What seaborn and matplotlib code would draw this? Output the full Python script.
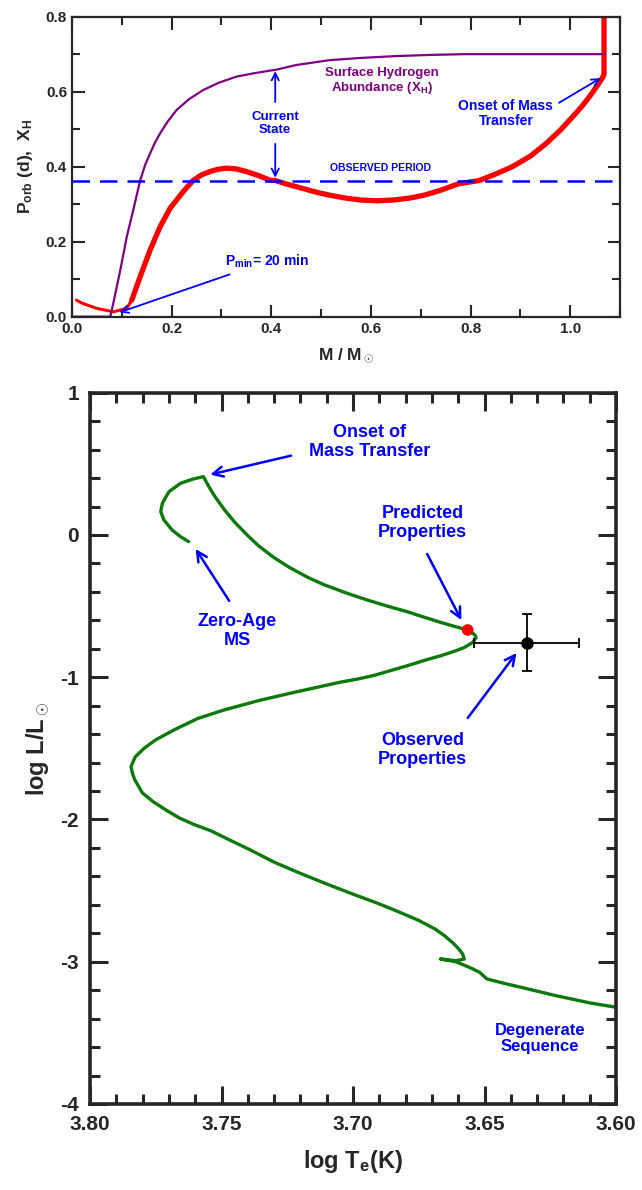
import numpy as np
import pandas as pd
import matplotlib
matplotlib.use("Agg")
import matplotlib.pyplot as plt
from matplotlib.ticker import MultipleLocator, FormatStrFormatter
import seaborn as sns

# ---- data ----
# top panel: orbital period (red) and surface hydrogen (purple) vs donor mass
red_m = [0.009, 0.02, 0.05, 0.083, 0.11, 0.12, 0.137, 0.157, 0.177, 0.197, 0.223, 0.243,
         0.26, 0.277, 0.293, 0.31, 0.33, 0.35, 0.375, 0.397, 0.408, 0.435, 0.463, 0.49,
         0.517, 0.55, 0.58, 0.612, 0.645, 0.677, 0.707, 0.74, 0.775, 0.817, 0.85, 0.884,
         0.92, 0.952, 0.98, 1.005, 1.023, 1.039, 1.055, 1.066, 1.068, 1.068]
red_p = [0.044, 0.036, 0.022, 0.013, 0.022, 0.044, 0.107, 0.178, 0.24, 0.289, 0.333, 0.363,
         0.378, 0.387, 0.393, 0.396, 0.394, 0.387, 0.376, 0.364, 0.363, 0.352, 0.342, 0.332,
         0.324, 0.316, 0.311, 0.309, 0.311, 0.316, 0.324, 0.337, 0.354, 0.363, 0.38, 0.40,
         0.428, 0.462, 0.497, 0.533, 0.56, 0.587, 0.617, 0.64, 0.645, 0.85]
purple_m = [0.0, 0.077, 0.083, 0.097, 0.11, 0.123, 0.137, 0.147, 0.157, 0.167, 0.177, 0.193,
            0.21, 0.235, 0.263, 0.295, 0.33, 0.365, 0.397, 0.408, 0.45, 0.517, 0.58, 0.653,
            0.72, 0.789, 0.9, 1.068]
purple_x = [0.0, 0.0, 0.036, 0.124, 0.213, 0.284, 0.364, 0.405, 0.436, 0.465, 0.489, 0.522,
            0.551, 0.58, 0.604, 0.624, 0.64, 0.649, 0.656, 0.658, 0.671, 0.684, 0.690, 0.695,
            0.698, 0.70, 0.70, 0.70]
observed_period = 0.363

# bottom panel: HR track
track_t = [3.7625, 3.7656, 3.7688, 3.7719, 3.7731, 3.7725, 3.770, 3.7656, 3.7612, 3.7569,
           3.7545, 3.7525, 3.749, 3.745, 3.740, 3.736, 3.730, 3.724, 3.717, 3.711,
           3.703, 3.695, 3.687, 3.6793, 3.673, 3.6666, 3.661, 3.6564,
           3.6538, 3.6532, 3.6545, 3.6577, 3.661, 3.6666, 3.672, 3.6793, 3.686, 3.6921,
           3.698, 3.7048, 3.711, 3.7237, 3.736, 3.749, 3.759, 3.768, 3.775, 3.7794,
           3.7828, 3.7844, 3.7838, 3.783, 3.7801, 3.776, 3.771, 3.766, 3.7605, 3.754,
           3.7474, 3.7395, 3.730, 3.7212, 3.7105, 3.70, 3.6905, 3.6819, 3.675, 3.6688,
           3.665, 3.6622, 3.6598, 3.6583, 3.6577, 3.6609, 3.6668, 3.6609, 3.6557, 3.6518,
           3.6491, 3.643, 3.6361, 3.623, 3.6098, 3.60]
track_l = [-0.047, -0.012, 0.035, 0.105, 0.164, 0.222, 0.304, 0.363, 0.391, 0.41,
           0.33, 0.27, 0.18, 0.09, -0.005, -0.075, -0.16, -0.23, -0.30, -0.35,
           -0.405, -0.455, -0.50, -0.54, -0.578, -0.615, -0.645, -0.668,
           -0.70, -0.722, -0.756, -0.791, -0.815, -0.849, -0.877, -0.919, -0.955, -0.988,
           -1.012, -1.035, -1.06, -1.112, -1.165, -1.23, -1.29, -1.37, -1.44, -1.499,
           -1.56, -1.628, -1.68, -1.72, -1.813, -1.875, -1.935, -1.99, -2.035, -2.08,
           -2.14, -2.21, -2.30, -2.37, -2.45, -2.525, -2.59, -2.655, -2.71, -2.77,
           -2.82, -2.865, -2.91, -2.946, -2.981, -2.993, -2.981, -3.0, -3.04, -3.075,
           -3.121, -3.15, -3.18, -3.238, -3.29, -3.32]
pred_t, pred_l = [3.6564], [-0.668]
obs_t, obs_l = 3.634, -0.757
obs_terr, obs_lerr = 0.02, 0.2

sns.set_style("ticks")
plt.rcParams["font.family"] = ["Liberation Sans Narrow", "Liberation Sans", "DejaVu Sans"]
plt.rcParams["font.weight"] = "bold"
plt.rcParams["mathtext.fontset"] = "custom"
plt.rcParams["mathtext.rm"] = "Liberation Sans:bold"
plt.rcParams["mathtext.bf"] = "Liberation Sans:bold"
plt.rcParams["mathtext.it"] = "Liberation Sans:bold"
plt.rcParams["mathtext.default"] = "bf"

BLUE = "#0000ff"
GREEN = "#0b7a0b"
PURPLE = "#800080"
RED = "#ff0000"

fig = plt.figure(figsize=(6.42, 11.9), dpi=100)
ax1 = fig.add_axes([0.1121, 0.7339, 0.8536, 0.2521])
ax2 = fig.add_axes([0.1402, 0.0723, 0.8193, 0.5977])

# ---- top panel ----
top = pd.DataFrame({"M": red_m, "P": red_p})
sns.lineplot(data=top.iloc[:6], x="M", y="P", sort=False, estimator=None,
             color=RED, lw=2.2, ax=ax1)
sns.lineplot(data=top.iloc[5:], x="M", y="P", sort=False, estimator=None,
             color=RED, lw=3.8, ax=ax1)
sns.lineplot(x=purple_m, y=purple_x, sort=False, estimator=None, color=PURPLE, lw=1.6, ax=ax1)
ax1.axhline(observed_period, color=BLUE, lw=1.8, dashes=(7, 4))

ax1.set_xlim(0, 1.1)
ax1.set_ylim(0, 0.8)
ax1.xaxis.set_major_locator(MultipleLocator(0.2))
ax1.xaxis.set_minor_locator(MultipleLocator(0.1))
ax1.yaxis.set_major_locator(MultipleLocator(0.2))
ax1.yaxis.set_minor_locator(MultipleLocator(0.1))
ax1.xaxis.set_major_formatter(FormatStrFormatter("%.1f"))
ax1.yaxis.set_major_formatter(FormatStrFormatter("%.1f"))
ax1.tick_params(which="both", direction="in", top=True, right=True, width=1.5, labelsize=11)
ax1.tick_params(which="major", length=9)
ax1.tick_params(which="minor", length=6)
for s in ax1.spines.values():
    s.set_linewidth(1.6)
ax1.set_xlabel(r"M / M$_\odot$", fontsize=12.5, fontweight="bold", labelpad=8)
ax1.set_ylabel(r"P$_{orb}$ (d),  X$_H$", fontsize=12.5, fontweight="bold", labelpad=8)

arw = dict(arrowstyle="->", color=BLUE, lw=1.3, mutation_scale=13)
ax1.annotate(r"P$_{min}$= 20 min", xy=(0.09, 0.009), xytext=(0.307, 0.147),
             color=BLUE, fontsize=10, ha="left", va="center", arrowprops=arw)
ax1.text(0.408, 0.516, "Current\nState", color=BLUE, fontsize=9.5, ha="center",
         va="center", linespacing=1.1)
ax1.annotate("", xy=(0.408, 0.662), xytext=(0.408, 0.565), arrowprops=arw)
ax1.annotate("", xy=(0.408, 0.363), xytext=(0.408, 0.468), arrowprops=arw)
ax1.text(0.622, 0.628, "Surface Hydrogen\nAbundance (X$_H$)", color=PURPLE, fontsize=9.5,
         ha="center", va="center", linespacing=1.1)
ax1.text(0.62, 0.396, "OBSERVED PERIOD", color=BLUE, fontsize=7.5, ha="center", va="center")
ax1.annotate("Onset of Mass\nTransfer", xy=(1.066, 0.64), xytext=(0.871, 0.542),
             color=BLUE, fontsize=10, ha="center", va="center", linespacing=1.1,
             arrowprops=dict(arw, relpos=(1.0, 0.75)))

# ---- bottom panel ----
sns.lineplot(x=track_t, y=track_l, sort=False, estimator=None, color=GREEN, lw=2.4, ax=ax2)
sns.scatterplot(x=pred_t, y=pred_l, color=RED, s=70, edgecolor="none", zorder=5, ax=ax2)
ax2.errorbar(obs_t, obs_l, xerr=obs_terr, yerr=obs_lerr, fmt="o", color="black",
             ms=8, lw=1.3, capsize=3.5, capthick=1.3, zorder=6)

ax2.set_xlim(3.80, 3.60)
ax2.set_ylim(-4, 1)
ax2.xaxis.set_major_locator(MultipleLocator(0.05))
ax2.xaxis.set_minor_locator(MultipleLocator(0.01))
ax2.yaxis.set_major_locator(MultipleLocator(1))
ax2.yaxis.set_minor_locator(MultipleLocator(0.2))
ax2.xaxis.set_major_formatter(FormatStrFormatter("%.2f"))
ax2.yaxis.set_major_formatter(FormatStrFormatter("%d"))
ax2.tick_params(which="both", direction="in", top=True, right=True, width=2.2, labelsize=15)
ax2.tick_params(which="major", length=13, pad=8)
ax2.tick_params(which="minor", length=7)
for s in ax2.spines.values():
    s.set_linewidth(2.6)
ax2.set_xlabel(r"log T$_e$(K)", fontsize=17, fontweight="bold", labelpad=10)
ax2.set_ylabel(r"log L/L$_\odot$", fontsize=17, fontweight="bold", labelpad=6)

arw2 = dict(arrowstyle="->", color=BLUE, lw=1.8, mutation_scale=18)
ax2.annotate("", xy=(3.7553, 0.42), xytext=(3.7225, 0.562), arrowprops=arw2)
ax2.text(3.6937, 0.656, "Onset of\nMass Transfer", color=BLUE, fontsize=13,
         ha="center", va="center", linespacing=1.15)
ax2.annotate("", xy=(3.7604, -0.082), xytext=(3.7465, -0.48), arrowprops=arw2)
ax2.text(3.744, -0.672, "Zero-Age\nMS", color=BLUE, fontsize=13, ha="center",
         va="center", linespacing=1.15)
ax2.annotate("", xy=(3.6583, -0.616), xytext=(3.6723, -0.116), arrowprops=arw2)
ax2.text(3.6736, 0.081, "Predicted\nProperties", color=BLUE, fontsize=13, ha="center",
         va="center", linespacing=1.15)
ax2.annotate("", xy=(3.6372, -0.814), xytext=(3.657, -1.302), arrowprops=arw2)
ax2.text(3.6736, -1.51, "Observed\nProperties", color=BLUE, fontsize=13, ha="center",
         va="center", linespacing=1.15)
ax2.text(3.629, -3.54, "Degenerate\nSequence", color=BLUE, fontsize=12, ha="center",
         va="center", linespacing=1.15)

fig.savefig("out.png", dpi=100)
